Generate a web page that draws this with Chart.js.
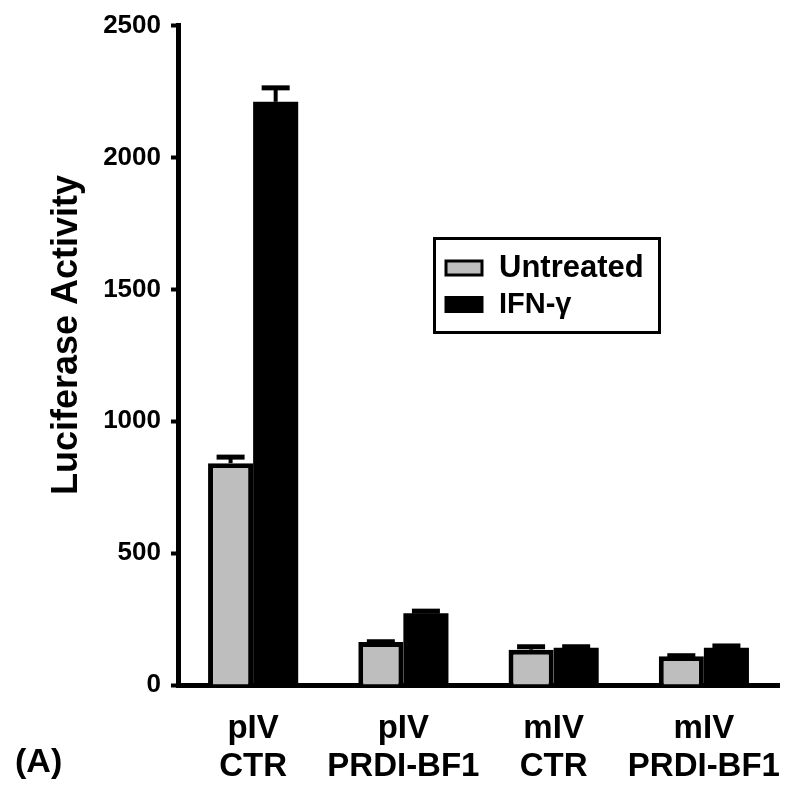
<!DOCTYPE html>
<html>
<head>
<meta charset="utf-8">
<script src="https://cdn.jsdelivr.net/npm/chart.js@4/dist/chart.umd.min.js"></script>
<style>
  html, body { margin: 0; padding: 0; background: #fff; }
  #wrap { width: 800px; height: 796px; }
</style>
</head>
<body>
<div id="wrap"><canvas id="lucChart" width="800" height="796"></canvas></div>
<script>
// categorias (dos lineas por etiqueta)
const categories = [['pIV', 'CTR'], ['pIV', 'PRDI-BF1'], ['mIV', 'CTR'], ['mIV', 'PRDI-BF1']];
const seriesNames = ['Untreated', 'IFN-\u03b3'];

// valores
const untreated = [841, 163, 134, 109];
const ifnGamma = [2211, 272, 141, 141];
// error (solo hacia arriba)
const untreatedErr = [23, 1, 11, 2];
const ifnGammaErr = [53, 8, 4, 7];

const yTicks = [0, 500, 1000, 1500, 2000, 2500];

const errors = [untreatedErr, ifnGammaErr];
const FONT = '"Liberation Sans", Arial, sans-serif';

// barras de error + leyenda + titulos dibujados a mano
const extrasPlugin = {
  id: 'extras',
  afterDatasetsDraw(chart) {
    const ctx = chart.ctx;
    const y = chart.scales.y;
    ctx.save();
    ctx.fillStyle = '#000';
    chart.data.datasets.forEach((ds, i) => {
      const meta = chart.getDatasetMeta(i);
      meta.data.forEach((bar, j) => {
        const top = y.getPixelForValue(ds.data[j]);
        const end = y.getPixelForValue(ds.data[j] + errors[i][j]);
        ctx.fillRect(bar.x - 2, end, 4, top - end);
        ctx.fillRect(bar.x - 14, end - 2.5, 28, 5);
      });
    });
    ctx.restore();
  },
  afterDraw(chart) {
    const ctx = chart.ctx;
    ctx.save();
    // leyenda
    ctx.strokeStyle = '#000';
    ctx.lineWidth = 3;
    ctx.strokeRect(434.5, 238.5, 225, 94);
    ctx.fillStyle = '#bebebe';
    ctx.fillRect(446, 261, 36, 14);
    ctx.strokeRect(446, 261, 36, 14);
    ctx.fillStyle = '#000';
    ctx.fillRect(444.5, 296, 39, 17);
    ctx.font = 'bold 31px ' + FONT;
    ctx.textBaseline = 'alphabetic';
    ctx.fillText(seriesNames[0], 499, 277);
    ctx.font = 'bold 29px ' + FONT;
    ctx.fillText(seriesNames[1], 499, 313);

    // titulo eje Y
    ctx.translate(77, 335);
    ctx.rotate(-Math.PI / 2);
    ctx.font = 'bold 36px ' + FONT;
    ctx.textAlign = 'center';
    ctx.textBaseline = 'alphabetic';
    ctx.fillText('Luciferase Activity', 0, 0);
    ctx.restore();

    // etiqueta del panel
    ctx.save();
    ctx.fillStyle = '#000';
    ctx.font = 'bold 34px ' + FONT;
    ctx.textBaseline = 'alphabetic';
    ctx.fillText('(A)', 15, 772);
    ctx.restore();
  }
};

const ctx = document.getElementById('lucChart').getContext('2d');

new Chart(ctx, {
  type: 'bar',
  data: {
    labels: categories,
    datasets: [
      {
        label: seriesNames[0],
        data: untreated,
        backgroundColor: '#bebebe',
        borderColor: '#000',
        borderWidth: 5,
        borderSkipped: 'bottom',
      },
      {
        label: seriesNames[1],
        data: ifnGamma,
        backgroundColor: '#000',
        borderWidth: 0,
      },
    ],
  },
  options: {
    responsive: false,
    animation: false,
    layout: { padding: { top: 22, right: 21, left: 0, bottom: 0 } },
    datasets: {
      bar: { categoryPercentage: 0.6, barPercentage: 1.0 },
    },
    scales: {
      x: {
        grid: { display: false },
        border: { display: true, color: '#000', width: 5 },
        ticks: {
          color: '#000',
          padding: 17,
          maxRotation: 0,
          autoSkip: false,
          font: { family: FONT, size: 33, weight: 'bold', lineHeight: 1.15 },
        },
        afterFit: (scale) => { scale.height = 111; },
      },
      y: {
        min: 0,
        max: 2500,
        afterBuildTicks: (scale) => { scale.ticks = yTicks.map((v) => ({ value: v })); },
        grid: {
          display: true,
          drawOnChartArea: false,
          drawTicks: true,
          tickLength: 7,
          tickWidth: 4,
          tickColor: '#000',
        },
        border: { display: true, color: '#000', width: 5 },
        ticks: {
          color: '#000',
          padding: 10,
          callback: (v) => String(v),
          font: { family: FONT, size: 26, weight: 'bold' },
        },
        afterFit: (scale) => { scale.width = 178; },
      },
    },
    plugins: {
      legend: { display: false },
      tooltip: { enabled: false },
    },
  },
  plugins: [extrasPlugin],
});
</script>
</body>
</html>
